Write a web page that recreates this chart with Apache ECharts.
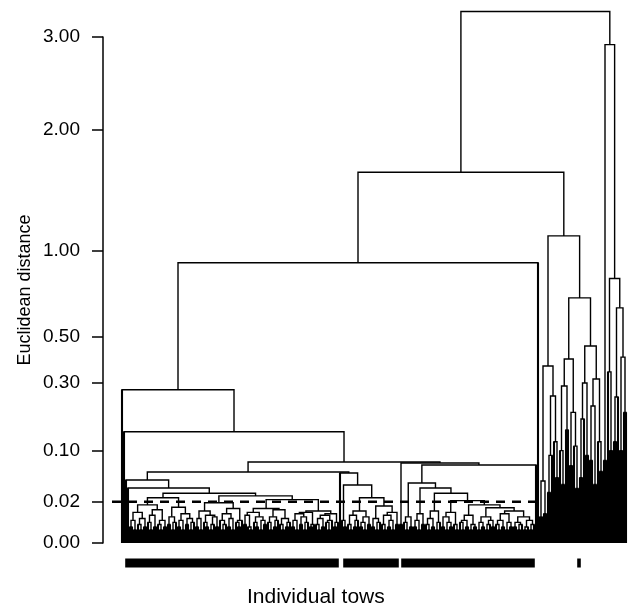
<!DOCTYPE html>
<html><head><meta charset="utf-8">
<script src="https://cdn.jsdelivr.net/npm/echarts@6/dist/echarts.min.js"></script>
<style>html,body{margin:0;padding:0;background:#fff}#c{width:628px;height:614px}</style>
</head><body><div id="c"></div>
<script>
// Y-axis tick labels (Euclidean distance, drawn on a square-root scale)
const yTickLabels = [0, 0.02, 0.10, 0.30, 0.50, 1.00, 2.00, 3.00];

// Dendrogram given as the merge height between each pair of neighbouring tows (leaf order left->right)
const outlierGaps = [0.275, 0.145];
const leftGroupGaps = [
  0.0466, 0.0355,
  0.003, 0.006, 0.002, 0.011, 0.004, 0.002, 0.007, 0.003,
  0.017,
  0.005, 0.002, 0.009, 0.003, 0.013, 0.004, 0.002, 0.006, 0.003,
  0.024,
  0.004, 0.008, 0.002, 0.005, 0.015, 0.003, 0.006, 0.002, 0.010, 0.004, 0.007, 0.002, 0.005,
  0.029,
  0.003, 0.007, 0.002, 0.012, 0.005, 0.003, 0.009, 0.002, 0.004, 0.008, 0.003,
  0.019,
  0.006, 0.002, 0.004, 0.010, 0.003, 0.007, 0.002, 0.014, 0.005, 0.003, 0.006,
  0.026,
  0.004, 0.009, 0.003, 0.002, 0.011, 0.005, 0.003, 0.008, 0.002, 0.006, 0.004,
  0.014,
  0.005, 0.002, 0.008, 0.003, 0.006, 0.013, 0.004, 0.002, 0.007, 0.003, 0.005,
  0.022,
  0.003, 0.006, 0.002, 0.010, 0.004, 0.008, 0.002, 0.005, 0.011, 0.003, 0.004,
  0.012,
  0.004, 0.002, 0.007, 0.003, 0.009, 0.005, 0.002, 0.006, 0.010, 0.003, 0.005
];
const leftMiddleJoin = [0.0591, 0.0575];
const middleGaps = [
  0.006, 0.003,
  0.0395,
  0.004, 0.002, 0.009, 0.003, 0.006, 0.012, 0.003, 0.005, 0.002, 0.008, 0.004,
  0.024,
  0.003, 0.007, 0.002, 0.005, 0.016, 0.004, 0.002, 0.009, 0.003, 0.006, 0.002, 0.011, 0.004
];
const middleRightJoin = [0.077];
const rightGroupGaps = [
  0.004, 0.075,
  0.005, 0.002, 0.008, 0.003,
  0.0422,
  0.003, 0.006, 0.002, 0.010, 0.004,
  0.0355,
  0.004, 0.002, 0.007, 0.003, 0.012, 0.002, 0.005,
  0.029,
  0.003, 0.008, 0.002, 0.005, 0.003, 0.011, 0.004, 0.002,
  0.021,
  0.005, 0.002, 0.006, 0.003, 0.009, 0.002, 0.004, 0.003,
  0.017,
  0.002, 0.005, 0.003, 0.008, 0.002, 0.004, 0.006, 0.003,
  0.0145,
  0.004, 0.002, 0.006, 0.003, 0.010, 0.002, 0.005, 0.003,
  0.012,
  0.003, 0.005, 0.002, 0.004, 0.008, 0.002, 0.003, 0.006, 0.002, 0.004,
  0.0714
];
const upperJoins = [0.92, 1.61];
const outlierClusterGaps = [
  0.008, 0.045, 0.010, 0.367, 0.03, 0.09, 0.253, 0.12, 0.05,
  1.105,
  0.10, 0.04, 0.289, 0.15, 0.397, 0.07, 0.20, 0.11, 0.035,
  0.704,
  0.05, 0.18, 0.30, 0.09,
  0.455,
  0.08, 0.22, 0.04, 0.315, 0.12, 0.06,
  3.31,
  0.08,
  2.91,
  0.343, 0.10,
  0.82,
  0.12, 0.25,
  0.648,
  0.10, 0.405, 0.2
];

// Tow groups marked under the dendrogram (first and last leaf index)
const towGroups = [[2, 108], [111, 138], [140, 206], [228, 229]];
// Cut level drawn as dashed line (distance) and the leaf span it covers
const cutLevel = 0.02;
const cutSpan = [-5, 209];

const gaps = [].concat(outlierGaps, leftGroupGaps, leftMiddleJoin, middleGaps,
  middleRightJoin, rightGroupGaps, upperJoins, outlierClusterGaps);
const nLeaves = gaps.length + 1;

const segs = [];
const stubs = [];
function build(lo, hi) {
  if (lo === hi) return {x: lo, h: 0, leaf: true};
  let k = lo;
  for (let i = lo; i < hi; i++) if (gaps[i] > gaps[k]) k = i;
  const L = build(lo, k), R = build(k + 1, hi);
  const h = Math.sqrt(gaps[k]);
  segs.push({coords: [[L.x, L.h], [L.x, h], [R.x, h], [R.x, R.h]]});
  if (L.leaf) stubs.push({coords: [[L.x, 0], [L.x, h]]});
  if (R.leaf) stubs.push({coords: [[R.x, 0], [R.x, h]]});
  return {x: (L.x + R.x) / 2, h: h, leaf: false};
}
build(0, nLeaves - 1);

const sq = v => Math.sqrt(v);
const barRow = -0.0685;
const FONT = 'Liberation Sans';

const chart = echarts.init(document.getElementById('c'), null, {renderer: 'canvas'});
chart.setOption({
  animation: false,
  backgroundColor: '#fff',
  title: {
    text: 'Individual tows', left: 242, top: 582,
    textStyle: {fontSize: 21, fontWeight: 'normal', color: '#000', fontFamily: FONT}
  },
  grid: {left: 103, right: 0, top: 37, bottom: 71, containLabel: false},
  xAxis: {type: 'value', min: -9.5, max: 253, show: false},
  yAxis: {
    type: 'value', min: 0, max: Math.sqrt(3),
    name: 'Euclidean distance', nameLocation: 'middle', nameGap: 69, nameMoveOverlap: false,
    nameTextStyle: {fontSize: 18, color: '#000', fontFamily: FONT},
    axisLine: {show: true, onZero: false, lineStyle: {color: '#000', width: 1.5}},
    axisTick: {show: true, length: 11, customValues: yTickLabels.map(sq), lineStyle: {color: '#000', width: 1.5}},
    axisLabel: {customValues: yTickLabels.map(sq), formatter: v => (v * v).toFixed(2),
      fontSize: 19, color: '#000', margin: 23, fontFamily: FONT},
    splitLine: {show: false}
  },
  series: [
    {
      type: 'lines', coordinateSystem: 'cartesian2d', polyline: true, clip: false, silent: true,
      data: segs,
      lineStyle: {color: '#000', width: 1.4, opacity: 1}
    },
    {
      type: 'lines', coordinateSystem: 'cartesian2d', polyline: true, clip: false, silent: true,
      data: stubs,
      lineStyle: {color: '#000', width: 2.1, opacity: 1, cap: 'butt'}
    },
    {
      type: 'line', symbol: 'none', silent: true,
      data: [[cutSpan[0], sq(cutLevel)], [cutSpan[1], sq(cutLevel)]],
      lineStyle: {color: '#000', width: 2.5, type: [9, 7]}
    },
    {
      type: 'lines', coordinateSystem: 'cartesian2d', polyline: true, clip: false, silent: true,
      data: towGroups.map(g => ({coords: [[g[0] - 0.4, barRow], [g[1] + 0.4, barRow]]})),
      lineStyle: {color: '#000', width: 9, opacity: 1, cap: 'butt'}
    }
  ]
});
</script></body></html>
